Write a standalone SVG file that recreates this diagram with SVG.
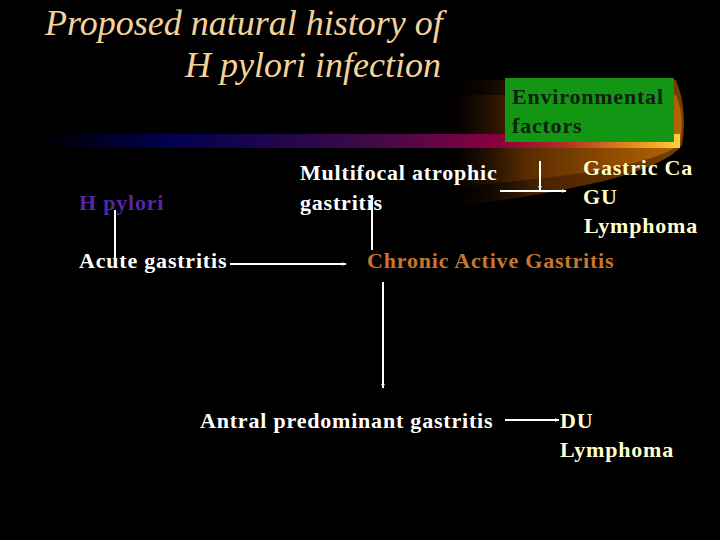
<svg xmlns="http://www.w3.org/2000/svg" width="720" height="540" viewBox="0 0 720 540">
<defs>
<linearGradient id="bar" x1="40" y1="0" x2="680" y2="0" gradientUnits="userSpaceOnUse">
<stop offset="0" stop-color="#000000"/>
<stop offset="0.2" stop-color="#000050"/>
<stop offset="0.5" stop-color="#3a0a48"/>
<stop offset="0.72" stop-color="#8a0040"/>
<stop offset="0.82" stop-color="#b03020"/>
<stop offset="0.95" stop-color="#f0a020"/>
<stop offset="1" stop-color="#ffd040"/>
</linearGradient>
<linearGradient id="swoosh" x1="440" y1="0" x2="690" y2="0" gradientUnits="userSpaceOnUse">
<stop offset="0" stop-color="#000000" stop-opacity="0"/>
<stop offset="0.35" stop-color="#5a2c00"/>
<stop offset="0.75" stop-color="#9a5200"/>
<stop offset="1" stop-color="#b86608"/>
</linearGradient>
<linearGradient id="swoosh2" x1="440" y1="0" x2="690" y2="0" gradientUnits="userSpaceOnUse">
<stop offset="0" stop-color="#000000" stop-opacity="0"/>
<stop offset="0.4" stop-color="#4a2200"/>
<stop offset="1" stop-color="#7a4000"/>
</linearGradient>
<marker id="ah" viewBox="0 0 10 10" refX="9" refY="5" markerWidth="5" markerHeight="5" orient="auto" markerUnits="userSpaceOnUse">
<path d="M0,1 L10,5 L0,9 Z" fill="#ffffff"/>
</marker>
<style>
.t{font-family:"Liberation Serif","Times New Roman",serif;font-weight:bold;font-size:22px;letter-spacing:0.8px}
.title{font-family:"Liberation Serif","Times New Roman",serif;font-style:italic;font-size:36px;fill:#f3d39b}
.w{fill:#ffffff}
.y{fill:#ffffcc}
.c{stroke:#ffffff;stroke-width:2;fill:none}
</style>
</defs>
<rect width="720" height="540" fill="#000000"/>
<g id="decor">
<path d="M440,80 L676,80 Q688,110 682,145 Q668,165 600,182 Q520,200 440,208 Z" fill="url(#swoosh2)"/>
<path d="M440,95 L676,95 Q686,120 679,145 Q660,160 590,172 Q520,182 440,188 Z" fill="url(#swoosh)"/>
<rect x="40" y="134" width="640" height="14" fill="url(#bar)"/>
</g>
<g id="title">
<text class="title" x="45" y="35">Proposed natural history of</text>
<text class="title" x="441" y="77" text-anchor="end">H pylori infection</text>
</g>
<g id="env">
<rect x="505" y="78" width="169" height="64" fill="#139613"/>
<text class="t" x="512" y="104" fill="#102010">Environmental</text>
<text class="t" x="512" y="133" fill="#102010">factors</text>
</g>
<g id="hpylori"><text class="t" x="79" y="210" fill="#5526a6">H pylori</text></g>
<g id="acute"><text class="t w" x="79" y="268">Acute gastritis</text></g>
<g id="chronic"><text class="t" x="367" y="268" fill="#c8762e">Chronic Active Gastritis</text></g>
<g id="multifocal">
<text class="t w" x="300" y="180">Multifocal atrophic</text>
<text class="t w" x="300" y="210">gastritis</text>
</g>
<g id="outcomes1">
<text class="t y" x="583" y="175">Gastric Ca</text>
<text class="t y" x="583" y="204">GU</text>
<text class="t y" x="584" y="233">Lymphoma</text>
</g>
<g id="antral"><text class="t w" x="200" y="428">Antral predominant gastritis</text></g>
<g id="outcomes2">
<text class="t y" x="560" y="428">DU</text>
<text class="t y" x="560" y="457">Lymphoma</text>
</g>
<g id="connectors">
<line class="c" x1="115" y1="210" x2="115" y2="260"/>
<line class="c" x1="230" y1="264" x2="346" y2="264" marker-end="url(#ah)"/>
<line class="c" x1="372" y1="250" x2="372" y2="195" marker-end="url(#ah)"/>
<line class="c" x1="540" y1="161" x2="540" y2="190" marker-end="url(#ah)"/>
<line class="c" x1="500" y1="191" x2="566" y2="191" marker-end="url(#ah)"/>
<line class="c" x1="383" y1="282" x2="383" y2="388" marker-end="url(#ah)"/>
<line class="c" x1="505" y1="420" x2="559" y2="420" marker-end="url(#ah)"/>
</g>
</svg>
